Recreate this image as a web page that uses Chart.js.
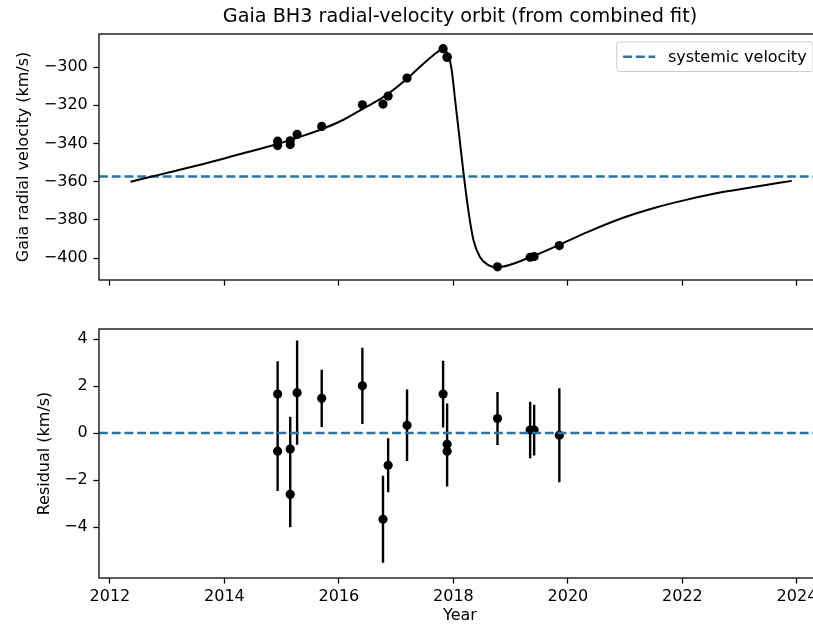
<!DOCTYPE html>
<html>
<head>
<meta charset="utf-8">
<script src="https://cdn.jsdelivr.net/npm/chart.js@4.4.1/dist/chart.umd.min.js"></script>
<style>
  html, body { margin: 0; padding: 0; background: #fff; overflow: hidden; }
  #wrap { position: relative; width: 813px; height: 626px; overflow: hidden; }
  canvas { position: absolute; left: 0; }
  #rvChart { top: 0; }
  #resChart { top: 300px; }
</style>
</head>
<body>
<div id="wrap">
  <canvas id="rvChart" width="835" height="300"></canvas>
  <canvas id="resChart" width="835" height="326"></canvas>
</div>
<script>
// **********************************************
// Data

// observation epochs (decimal year)
const obsYear = [2014.93, 2014.93, 2015.15, 2015.15, 2015.27, 2015.70, 2016.41, 2016.77, 2016.86,
                 2017.19, 2017.82, 2017.89, 2017.89, 2018.77, 2019.34, 2019.41, 2019.85];
// Gaia radial velocities (km/s)
const obsRV = [-338.8, -341.1, -338.6, -340.6, -335.3, -331.1, -319.8, -319.4, -315.2,
               -305.8, -290.4, -294.6, -295.0, -404.6, -399.6, -399.2, -393.5];
// residuals and their errors (km/s)
const resVal = [1.66, -0.77, -0.68, -2.61, 1.72, 1.48, 2.01, -3.67, -1.37,
                0.33, 1.66, -0.48, -0.77, 0.62, 0.13, 0.13, -0.09];
const resErr = [1.40, 1.70, 1.37, 1.40, 2.22, 1.22, 1.62, 1.85, 1.15,
                1.52, 1.42, 1.74, 1.50, 1.13, 1.20, 1.08, 2.00];

// fitted orbit curve
const modelYear = [2012.36, 2013.00, 2013.60, 2014.20, 2014.93, 2015.27, 2015.70, 2016.08, 2016.41,
                   2016.80, 2017.19, 2017.47, 2017.71, 2017.79, 2017.91, 2017.97, 2018.03, 2018.11,
                   2018.18, 2018.26, 2018.35, 2018.46, 2018.61, 2018.77, 2019.34, 2019.84, 2020.36,
                   2020.94, 2021.52, 2022.10, 2022.68, 2023.27, 2023.91];
const modelRV = [-360.1, -355.4, -351.0, -346.2, -340.3, -337.0, -332.6, -327.6, -322.0,
                 -315.2, -306.1, -298.4, -292.4, -290.8, -293.7, -301.6, -317.3, -338.2,
                 -356.5, -374.9, -390.6, -399.3, -403.7, -404.8, -399.6, -393.2, -386.2,
                 -379.2, -373.7, -369.3, -365.6, -362.7, -359.6];

const systemicRV = -357.3;

// axes
const yearMin = 2011.81, yearMax = 2024.42;
const yearTicks = [2012, 2014, 2016, 2018, 2020, 2022, 2024];
const rvMin = -411.5, rvMax = -282.7;
const rvTicks = [-300, -320, -340, -360, -380, -400];
const resMin = -6.17, resMax = 4.43;
const resTicks = [4, 2, 0, -2, -4];

// **********************************************
// Styles

const FONT = 'DejaVu Sans';
const tickFont = { family: FONT, size: 16 };
const blue = '#1f77b4';
const dash = [8.9, 3.84];
const minus = v => String(v).replace('-', '\u2212');

// full box around the axes, like matplotlib spines
const frame = {
    id: 'frame',
    afterDraw(chart) {
        const { ctx, chartArea: a } = chart;
        ctx.save();
        ctx.strokeStyle = '#000';
        ctx.lineWidth = 1.28;
        ctx.strokeRect(a.left, a.top, a.right - a.left, a.bottom - a.top);
        ctx.restore();
    }
};

// figure title centred over the axes
const figTitle = {
    id: 'figTitle',
    afterDraw(chart, args, opts) {
        if (!opts.text) return;
        const { ctx, chartArea: a } = chart;
        ctx.save();
        ctx.font = '19.2px "' + FONT + '"';
        ctx.fillStyle = '#000';
        ctx.textAlign = 'center';
        ctx.textBaseline = 'middle';
        ctx.fillText(opts.text, (a.left + a.right) / 2, opts.y);
        ctx.restore();
    }
};

// matplotlib-like legend box in the upper right
const mplLegend = {
    id: 'mplLegend',
    afterDraw(chart, args, opts) {
        if (!opts.label) return;
        const { ctx, chartArea: a } = chart;
        ctx.save();
        ctx.font = '16px "' + FONT + '"';
        const tw = ctx.measureText(opts.label).width;
        const w = 6.4 + 32 + 12.8 + tw + 6.4, h = 29.5;
        const x = a.right - 8 - w, y = a.top + 8;
        ctx.beginPath();
        ctx.roundRect(x, y, w, h, 3);
        ctx.fillStyle = 'rgba(255,255,255,0.8)';
        ctx.fill();
        ctx.strokeStyle = '#cccccc';
        ctx.lineWidth = 1;
        ctx.stroke();
        ctx.beginPath();
        ctx.setLineDash(dash);
        ctx.strokeStyle = blue;
        ctx.lineWidth = 2.4;
        ctx.moveTo(x + 6.4, y + h / 2);
        ctx.lineTo(x + 6.4 + 32, y + h / 2);
        ctx.stroke();
        ctx.setLineDash([]);
        ctx.fillStyle = '#000';
        ctx.textBaseline = 'middle';
        ctx.fillText(opts.label, x + 6.4 + 32 + 12.8, y + h / 2 + 1);
        ctx.restore();
    }
};

function xAxis(showLabels, height) {
    return {
        type: 'linear',
        min: yearMin,
        max: yearMax,
        afterBuildTicks: s => { s.ticks = yearTicks.map(v => ({ value: v })); },
        afterFit: s => { s.height = height; },
        ticks: { display: showLabels, font: tickFont, color: '#000', padding: 4, maxRotation: 0,
                 callback: v => String(v) },
        grid: { drawOnChartArea: false, drawTicks: true, tickLength: 5.6, tickWidth: 1.28, tickColor: '#000' },
        border: { display: false },
        title: { display: showLabels, text: 'Year', font: tickFont, color: '#000',
                 padding: { top: 0, bottom: 0.5 } }
    };
}

function yAxis(min, max, ticks, label, titlePad) {
    return {
        min: min,
        max: max,
        afterBuildTicks: s => { s.ticks = ticks.map(v => ({ value: v })); },
        afterFit: s => { s.width = 99; },
        ticks: { font: tickFont, color: '#000', padding: 5.6, callback: v => minus(v) },
        grid: { drawOnChartArea: false, drawTicks: true, tickLength: 5.6, tickWidth: 1.28, tickColor: '#000' },
        border: { display: false },
        title: { display: true, text: label, font: tickFont, color: '#000',
                 padding: { top: titlePad, bottom: 0 } }
    };
}

const common = {
    responsive: false,
    animation: false,
    devicePixelRatio: 1,
    events: [],
    plugins: { legend: { display: false }, tooltip: { enabled: false } }
};

// **********************************************
// Radial velocity panel

let rvChart = new Chart(document.getElementById('rvChart').getContext('2d'), {
    type: 'line',
    data: {
        datasets: [
            {
                label: 'orbit',
                data: modelYear.map((x, i) => ({ x: x, y: modelRV[i] })),
                borderColor: '#000',
                borderWidth: 2,
                pointRadius: 0,
                cubicInterpolationMode: 'monotone',
                fill: false
            },
            {
                label: 'systemic velocity',
                data: [{ x: yearMin, y: systemicRV }, { x: yearMax, y: systemicRV }],
                borderColor: blue,
                borderWidth: 2.4,
                borderDash: dash,
                pointRadius: 0,
                fill: false
            },
            {
                label: 'Gaia RV',
                data: obsYear.map((x, i) => ({ x: x, y: obsRV[i] })),
                showLine: false,
                pointRadius: 4.6,
                pointBackgroundColor: '#000',
                pointBorderWidth: 0
            }
        ]
    },
    options: {
        ...common,
        layout: { padding: { top: 34, right: 14, left: 0, bottom: 0 } },
        scales: {
            x: xAxis(false, 20),
            y: yAxis(rvMin, rvMax, rvTicks, 'Gaia radial velocity (km/s)', 14.4)
        },
        plugins: {
            ...common.plugins,
            figTitle: { text: 'Gaia BH3 radial-velocity orbit (from combined fit)', y: 17 },
            mplLegend: { label: 'systemic velocity' }
        }
    },
    plugins: [frame, figTitle, mplLegend]
});

// **********************************************
// Residual panel

// vertical error bars as broken line segments
let errSegments = [];
obsYear.forEach((x, i) => {
    errSegments.push({ x: x, y: resVal[i] - resErr[i] });
    errSegments.push({ x: x, y: resVal[i] + resErr[i] });
    errSegments.push({ x: x, y: null });
});

let resChart = new Chart(document.getElementById('resChart').getContext('2d'), {
    type: 'line',
    data: {
        datasets: [
            {
                label: 'zero',
                data: [{ x: yearMin, y: 0 }, { x: yearMax, y: 0 }],
                borderColor: blue,
                borderWidth: 2.4,
                borderDash: dash,
                pointRadius: 0,
                fill: false
            },
            {
                label: 'errors',
                data: errSegments,
                borderColor: '#000',
                borderWidth: 2.4,
                pointRadius: 0,
                spanGaps: false,
                fill: false
            },
            {
                label: 'residual',
                data: obsYear.map((x, i) => ({ x: x, y: resVal[i] })),
                showLine: false,
                pointRadius: 4.6,
                pointBackgroundColor: '#000',
                pointBorderWidth: 0
            }
        ]
    },
    options: {
        ...common,
        layout: { padding: { top: 29, right: 14, left: 0, bottom: 0 } },
        scales: {
            x: xAxis(true, 48),
            y: yAxis(resMin, resMax, resTicks, 'Residual (km/s)', 35.4)
        }
    },
    plugins: [frame]
});
</script>
</body>
</html>
